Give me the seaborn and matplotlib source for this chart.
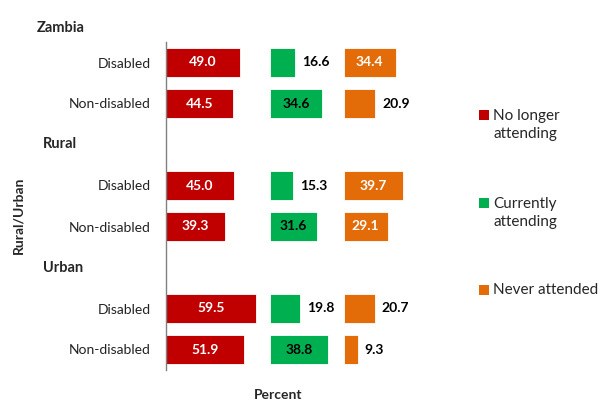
import numpy as np
import pandas as pd
import seaborn as sns
import matplotlib.pyplot as plt
from matplotlib.patches import Rectangle

# rows of the category axis (blank rows hold the group headers)
rows = ["Zambia|Disabled", "Zambia|Non-disabled", "Rural",
        "Rural|Disabled", "Rural|Non-disabled", "Urban",
        "Urban|Disabled", "Urban|Non-disabled"]
row_labels = ["Disabled", "Non-disabled", "", "Disabled", "Non-disabled", "",
              "Disabled", "Non-disabled"]
groups = ["Zambia", "Rural", "Urban"]
group_rows = [-0.83, 2, 5]

bar_rows = ["Zambia|Disabled", "Zambia|Non-disabled",
            "Rural|Disabled", "Rural|Non-disabled",
            "Urban|Disabled", "Urban|Non-disabled"]
no_longer = [49.0, 44.5, 45.0, 39.3, 59.5, 51.9]
currently = [16.6, 34.6, 15.3, 31.6, 19.8, 38.8]
never = [34.4, 20.9, 39.7, 29.1, 20.7, 9.3]

series = ["No longer\nattending", "Currently\nattending", "Never attended"]
colors = ["#C00000", "#00B050", "#E36C09"]
inside_text = ["white", "black", "white"]
panel_max = [69, 49, 50]

sns.set_style("white")
plt.rcParams["font.family"] = ["Lato", "DejaVu Sans"]

fig = plt.figure(figsize=(6, 4.01), dpi=100)
gs = fig.add_gridspec(1, 3, width_ratios=panel_max, wspace=0,
                      left=166 / 600, right=419 / 600,
                      top=1 - 42 / 401, bottom=1 - 370 / 401)

for i, vals in enumerate([no_longer, currently, never]):
    ax = fig.add_subplot(gs[0, i])
    df = pd.DataFrame({"row": bar_rows, "value": vals})
    sns.barplot(data=df, x="value", y="row", order=rows, color=colors[i],
                width=0.73, saturation=1, ax=ax, edgecolor="white", linewidth=0.6)
    ax.set_xlim(0, panel_max[i])
    ax.set_ylim(len(rows) - 0.5, -0.5)
    ax.set_xlabel("")
    ax.set_ylabel("")
    ax.set_xticks([])
    for s in ["top", "right", "bottom"]:
        ax.spines[s].set_visible(False)
    if i == 0:
        ax.spines["left"].set_color("#808080")
        ax.spines["left"].set_linewidth(1)
        ax.set_yticks(range(len(rows)))
        ax.set_yticklabels(row_labels, fontsize=10, color="#222222")
        ax.tick_params(axis="y", length=0, pad=11)
        for g, r in zip(groups, group_rows):
            ax.annotate(g, xy=(37 if g == "Zambia" else 43, r),
                        xycoords=("figure pixels", "data"),
                        ha="left", va="center", fontsize=10.5, fontweight="bold")
    else:
        ax.spines["left"].set_visible(False)
        ax.set_yticks([])
    for p in ax.patches:
        w = p.get_width()
        if np.isnan(w) or w == 0:
            continue
        yc = p.get_y() + p.get_height() / 2
        if i == 0 or w > 25:
            ax.text(w / 2, yc, f"{w:.1f}", ha="center", va="center",
                    fontsize=10, fontweight="bold", color=inside_text[i])
        else:
            ax.annotate(f"{w:.1f}", xy=(w, yc), xytext=(5, 0),
                        textcoords="offset points", ha="left", va="center",
                        fontsize=10, fontweight="bold", color="black")

fig.text(18 / 600, 1 - 215 / 401, "Rural/Urban", rotation=90, ha="center",
         va="center", fontsize=10, fontweight="bold")
fig.text(278 / 600, 1 - 395 / 401, "Percent", ha="center", va="center",
         fontsize=10, fontweight="bold")

# legend: square aligned with the first line of each label
legend_y = [115, 203, 290]
for lab, c, y in zip(series, colors, legend_y):
    fig.add_artist(Rectangle((479 / 600, 1 - (y + 5) / 401), 10 / 600, 10 / 401,
                             transform=fig.transFigure, facecolor=c,
                             edgecolor="none"))
    nlines = lab.count("\n")
    fig.text(493 / 600, 1 - (y + 10 * nlines) / 401, lab, ha="left",
             va="center", fontsize=11, linespacing=1.3)

fig.savefig("out.png", dpi=100)
